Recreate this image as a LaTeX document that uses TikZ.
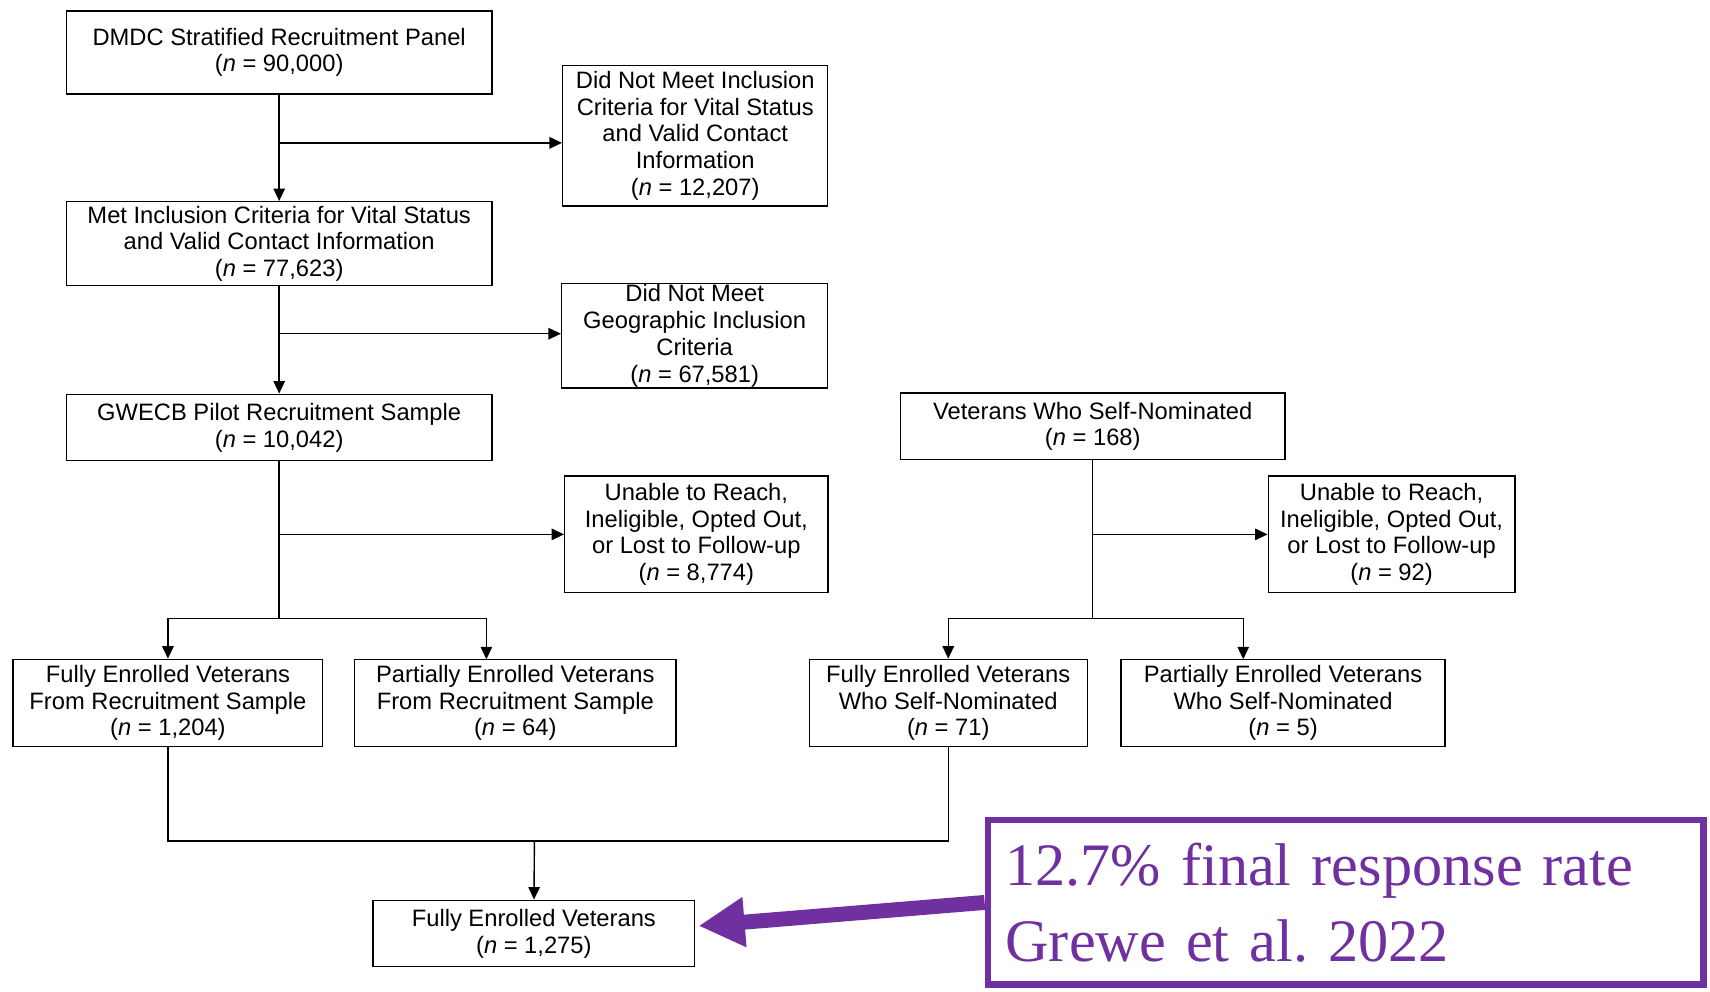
\documentclass[tikz,border=0pt]{standalone}
\usepackage{fontspec}
\setmainfont{Liberation Sans}
\newfontfamily\notefont{Liberation Serif}
\usetikzlibrary{arrows.meta,calc,positioning}
\definecolor{notepurple}{RGB}{112,48,160}
\newcommand{\ncount}[1]{(\textit{n} = #1)}
\frenchspacing
\tikzset{
  flow box/.style={draw,line width=.8pt,align=center,inner sep=0pt,
    font=\fontsize{13.5}{15.2}\selectfont},
  flow edge/.style={line width=.8pt},
  flow arrow/.style={line width=.8pt,-{Triangle[length=2.5mm,width=2.3mm]}},
  note box/.style={draw=notepurple,line width=3.7pt,text=notepurple,align=left,
    inner xsep=.35cm,inner ysep=0pt,text width=13.61cm,
    minimum width=14.31cm,minimum height=3.29cm,
    font=\notefont\fontsize{34.3}{43}\selectfont},
  note arrow/.style={draw=notepurple,line width=8.5pt,
    -{Triangle[length=9.2mm,width=9.4mm]}}
}
\begin{document}
\begin{tikzpicture}[x=0.021812cm,y=-0.021812cm,line cap=butt,line join=miter]
  \useasboundingbox (0,0) rectangle (1568,909);

  \node[flow box,minimum width=8.51cm,minimum height=1.66cm] (panel) at (256,48)
    {DMDC Stratified Recruitment Panel\\\ncount{90,000}};
  \node[flow box,minimum width=5.30cm,minimum height=2.81cm] (noinc) at (637.5,124.5)
    {Did Not Meet Inclusion\\Criteria for Vital Status\\and Valid Contact\\Information\\\ncount{12,207}};
  \node[flow box,minimum width=8.51cm,minimum height=1.68cm] (metinc) at (256,223.5)
    {Met Inclusion Criteria for Vital Status\\and Valid Contact Information\\\ncount{77,623}};
  \node[flow box,minimum width=5.32cm,minimum height=2.09cm] (nogeo) at (637,308)
    {Did Not Meet\\Geographic Inclusion\\Criteria\\\ncount{67,581}};
  \node[flow box,minimum width=8.51cm,minimum height=1.33cm] (pilot) at (256,392)
    {GWECB Pilot Recruitment Sample\\\ncount{10,042}};
  \node[flow box,minimum width=7.68cm,minimum height=1.33cm] (selfnom) at (1002,391)
    {Veterans Who Self-Nominated\\\ncount{168}};
  \node[flow box,minimum width=5.26cm,minimum height=2.33cm] (lostp) at (638.5,490)
    {Unable to Reach,\\Ineligible, Opted Out,\\or Lost to Follow-up\\\ncount{8,774}};
  \node[flow box,minimum width=4.93cm,minimum height=2.33cm] (losts) at (1276,490)
    {Unable to Reach,\\Ineligible, Opted Out,\\or Lost to Follow-up\\\ncount{92}};
  \node[flow box,minimum width=6.19cm,minimum height=1.74cm] (fullp) at (154,644.5)
    {Fully Enrolled Veterans\\From Recruitment Sample\\\ncount{1,204}};
  \node[flow box,minimum width=6.43cm,minimum height=1.74cm] (partp) at (472.5,644.5)
    {Partially Enrolled Veterans\\From Recruitment Sample\\\ncount{64}};
  \node[flow box,minimum width=5.56cm,minimum height=1.74cm] (fulls) at (869.5,644.5)
    {Fully Enrolled Veterans\\Who Self-Nominated\\\ncount{71}};
  \node[flow box,minimum width=6.48cm,minimum height=1.74cm] (parts) at (1176.5,644.5)
    {Partially Enrolled Veterans\\Who Self-Nominated\\\ncount{5}};
  \node[flow box,minimum width=6.43cm,minimum height=1.33cm] (fullall) at (489.5,856)
    {Fully Enrolled Veterans\\\ncount{1,275}};
  \node[note box] (note) at (1234,827.5)
    {12.7\% final response rate\\Grewe et al. 2022};

  \coordinate (a1) at (256,131);
  \coordinate (c1) at (256,306);
  \coordinate (e1) at (256,490);
  \coordinate (e2) at (256,567);
  \coordinate (j0) at (446,604.5);
  \coordinate (f1) at (1002,490);
  \coordinate (f2) at (1002,567);
  \coordinate (l0) at (1140,604.5);
  \coordinate (m0) at (490,771);

  \draw[flow arrow] (panel) -- (metinc);
  \draw[flow arrow] (a1) -- (a1 -| noinc.west);
  \draw[flow arrow] (metinc) -- (pilot);
  \draw[flow arrow] (c1) -- (c1 -| nogeo.west);
  \draw[flow edge] (pilot.south) -- (e2);
  \draw[flow arrow] (e1) -- (e1 -| lostp.west);
  \draw[flow arrow] (e2) -| (fullp.north);
  \draw[flow arrow] (e2) -| (j0);
  \draw[flow edge] (selfnom.south) -- (f2);
  \draw[flow arrow] (f1) -- (f1 -| losts.west);
  \draw[flow arrow] (f2) -| (fulls.north);
  \draw[flow arrow] (f2) -| (l0);
  \draw[flow edge] (fullp.south) |- (fulls.south |- m0) -- (fulls.south);
  \draw[flow arrow] (m0) -- (fullall);

  \draw[note arrow] (note.west) -- ($(fullall.east)+(3,-7)$);
\end{tikzpicture}
\end{document}
